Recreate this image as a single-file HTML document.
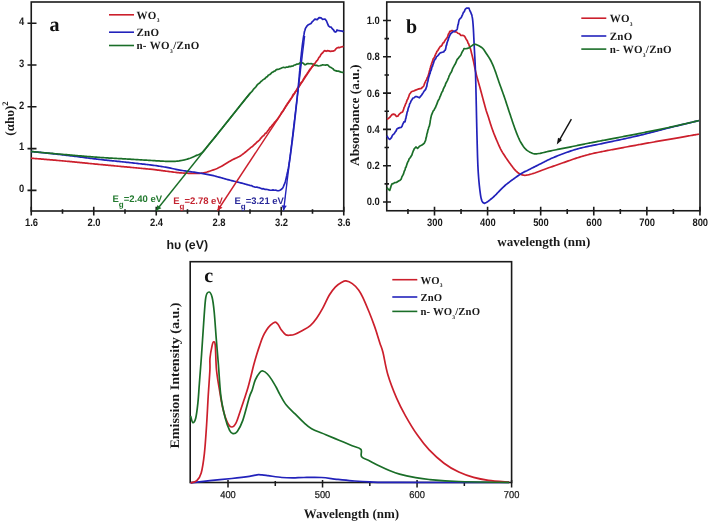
<!DOCTYPE html>
<html><head><meta charset="utf-8"><style>
html,body{margin:0;padding:0;background:#fff;}
text{text-rendering:geometricPrecision;}
svg{display:block;will-change:transform;}
.tka{font-family:'Liberation Sans', sans-serif;font-weight:bold;font-size:10.8px;fill:#1a1a1a;text-anchor:middle;}
.tkc{font-family:'Liberation Sans', sans-serif;font-size:10px;fill:#1a1a1a;stroke:#1a1a1a;stroke-width:0.25px;text-anchor:middle;}
.eg{font-family:'Liberation Sans', sans-serif;font-weight:bold;font-size:9.5px;}
.lg{font-family:'Liberation Serif', serif;font-weight:bold;font-size:11px;letter-spacing:0.35px;fill:#1a1a1a;}
.pl{font-family:'Liberation Serif', serif;font-weight:bold;font-size:20px;fill:#111;}
.at{font-family:'Liberation Serif', serif;font-weight:bold;font-size:13px;fill:#1a1a1a;}
</style></head><body>
<svg width="708" height="524" viewBox="0 0 708 524">
<rect width="708" height="524" fill="#fff"/>
<rect x="31.25" y="2" width="312.5" height="209" fill="none" stroke="#1a1a1a" stroke-width="1.6"/>
<text transform="translate(31.55,226) scale(0.87,1)" class="tka">1.6</text>
<text transform="translate(94.05,226) scale(0.87,1)" class="tka">2.0</text>
<text transform="translate(156.55,226) scale(0.87,1)" class="tka">2.4</text>
<text transform="translate(219.05,226) scale(0.87,1)" class="tka">2.8</text>
<text transform="translate(281.55,226) scale(0.87,1)" class="tka">3.2</text>
<text transform="translate(344.05,226) scale(0.87,1)" class="tka">3.6</text>
<text transform="translate(24.2,192.2) scale(0.87,1)" class="tka" style="text-anchor:end">0</text>
<text transform="translate(24.2,150.4) scale(0.87,1)" class="tka" style="text-anchor:end">1</text>
<text transform="translate(24.2,108.6) scale(0.87,1)" class="tka" style="text-anchor:end">2</text>
<text transform="translate(24.2,66.8) scale(0.87,1)" class="tka" style="text-anchor:end">3</text>
<text transform="translate(24.2,25) scale(0.87,1)" class="tka" style="text-anchor:end">4</text>
<path d="M31.25,206.8 L31.25,215.5 M62.5,209.3 L62.5,213.8 M93.75,206.8 L93.75,215.5 M125,209.3 L125,213.8 M156.25,206.8 L156.25,215.5 M187.5,209.3 L187.5,213.8 M218.75,206.8 L218.75,215.5 M250,209.3 L250,213.8 M281.25,206.8 L281.25,215.5 M312.5,209.3 L312.5,213.8 M343.75,206.8 L343.75,215.5 M27.5,190.4 L36.5,190.4 M27.5,148.6 L36.5,148.6 M27.5,106.8 L36.5,106.8 M27.5,65 L36.5,65 M27.5,23.2 L36.5,23.2" stroke="#1a1a1a" stroke-width="1.6" fill="none"/>
<path d="M31,158.2 L31.71,158.26 L32.51,158.33 L33.41,158.4 L34.38,158.48 L35.44,158.57 L36.57,158.66 L37.76,158.76 L39.01,158.86 L40.32,158.97 L41.68,159.08 L43.08,159.2 L44.52,159.32 L45.99,159.44 L47.48,159.57 L49,159.7 L50.53,159.82 L52.07,159.95 L53.61,160.09 L55.15,160.22 L56.68,160.35 L58.2,160.48 L59.69,160.61 L61.16,160.74 L62.6,160.87 L64,161 L65.27,161.12 L66.54,161.23 L67.79,161.35 L69.04,161.47 L70.29,161.59 L71.53,161.71 L72.77,161.83 L74.01,161.95 L75.26,162.07 L76.51,162.19 L77.76,162.32 L79.03,162.44 L80.3,162.57 L81.58,162.7 L82.88,162.82 L84.18,162.95 L85.51,163.09 L86.85,163.22 L88.21,163.35 L89.6,163.49 L91,163.63 L92.43,163.77 L93.89,163.91 L95.37,164.05 L96.88,164.2 L98.42,164.35 L100,164.5 L101.15,164.61 L102.35,164.72 L103.58,164.84 L104.84,164.96 L106.14,165.08 L107.47,165.2 L108.83,165.33 L110.21,165.46 L111.61,165.59 L113.04,165.72 L114.48,165.86 L115.93,165.99 L117.4,166.13 L118.87,166.26 L120.35,166.4 L121.84,166.54 L123.32,166.68 L124.8,166.81 L126.28,166.95 L127.75,167.09 L129.21,167.22 L130.66,167.36 L132.1,167.49 L133.51,167.62 L134.91,167.75 L136.28,167.88 L137.63,168.01 L138.95,168.13 L140.24,168.25 L141.49,168.37 L142.71,168.49 L143.89,168.6 L145.03,168.71 L146.12,168.82 L147.17,168.92 L148.16,169.02 L149.11,169.11 L150,169.2 L152.5,169.46 L154.58,169.68 L156.3,169.87 L157.72,170.04 L158.9,170.2 L159.9,170.33 L160.78,170.46 L161.6,170.58 L162.43,170.7 L163.31,170.82 L164.31,170.95 L165.5,171.1 L166.8,171.26 L168.1,171.42 L169.4,171.59 L170.7,171.76 L172,171.92 L173.3,172.09 L174.6,172.25 L175.9,172.4 L177.2,172.54 L178.5,172.68 L179.8,172.8 L181.1,172.9 L182.54,173 L184.03,173.09 L185.54,173.17 L187.07,173.23 L188.59,173.29 L190.08,173.33 L191.53,173.37 L192.93,173.39 L194.25,173.41 L195.48,173.41 L196.6,173.4 L198.35,173.36 L199.77,173.29 L200.98,173.17 L202.09,173.03 L203.19,172.84 L204.4,172.6 L205.7,172.31 L207,171.98 L208.3,171.6 L209.6,171.19 L210.9,170.75 L212.2,170.3 L213.46,169.86 L214.66,169.43 L215.87,168.98 L217.13,168.47 L218.49,167.85 L220,167.1 L221.01,166.56 L222.1,165.94 L223.25,165.26 L224.45,164.53 L225.67,163.79 L226.9,163.03 L228.11,162.29 L229.29,161.58 L230.43,160.91 L231.5,160.3 L232.94,159.54 L234.31,158.87 L235.63,158.26 L236.9,157.67 L238.15,157.07 L239.38,156.43 L240.6,155.7 L241.8,154.89 L242.96,154.04 L244.1,153.15 L245.22,152.23 L246.34,151.29 L247.46,150.35 L248.6,149.4 L249.62,148.57 L250.65,147.68 L251.69,146.9 L252.72,146.33 L253.75,145.09 L254.76,144.25 L255.75,143.44 L256.7,142.25 L257.74,141.53 L258.73,140.66 L259.7,139.83 L260.65,138.31 L261.59,137.49 L262.53,136.32 L263.5,135.85 L264.36,134.81 L265.22,133.32 L266.08,133.08 L266.94,132.07 L267.81,130.8 L268.67,129.75 L269.54,128.35 L270.4,127.21 L271.26,126.6 L272.13,125.22 L273,124.31 L273.86,123.33 L274.73,122.12 L275.59,121.41 L276.45,120.29 L277.3,119.47 L278.05,118.16 L278.8,117.16 L279.55,115.93 L280.3,114.91 L281.04,113.59 L281.78,112.28 L282.52,111.69 L283.26,110.54 L284,109.27 L284.74,108.04 L285.47,106.61 L286.2,105.42 L286.92,104.36 L287.65,103.07 L288.38,102.51 L289.12,101.09 L289.85,100.32 L290.6,98.81 L291.35,98.12 L292.1,96.89 L292.86,95.06 L293.61,94.08 L294.38,93.48 L295.14,91.96 L295.92,91.19 L296.71,89.53 L297.5,88.06 L298.24,87.38 L299,86.34 L299.78,84.74 L300.58,83.39 L301.37,82.38 L302.15,81.69 L302.91,80.37 L303.65,78.74 L304.35,77.78 L305,76.68 L305.98,75.15 L306.86,74.39 L307.66,72.65 L308.43,71.78 L309.2,70.57 L310,69.25 L311,68.41 L312.01,66.74 L313,66.01 L313.97,64.46 L314.9,63.54 L315.76,62.16 L316.58,60.98 L317.37,60.31 L318.17,58.95 L319,57.34 L319.9,56.53 L320.86,54.64 L321.82,53.49 L322.72,52.73 L323.5,51.71 L324.65,50.54 L326.1,51.29 L327.29,50.69 L328.8,50.83 L330.41,51.36 L331.88,51.12 L333,51.14 L334.7,50.56 L335.67,49.13 L336.8,48.07 L338.19,47.43 L339.8,47.58 L341.15,47.03 L342.59,46.67 L343.6,46.77" stroke="#cc1f2c" stroke-width="1.7" fill="none" stroke-linejoin="round"/>
<path d="M31,151.5 L31.71,151.57 L32.51,151.66 L33.41,151.75 L34.38,151.85 L35.44,151.96 L36.57,152.08 L37.76,152.2 L39.01,152.33 L40.32,152.46 L41.68,152.6 L43.08,152.74 L44.52,152.89 L45.99,153.05 L47.48,153.2 L49,153.36 L50.53,153.52 L52.07,153.68 L53.61,153.85 L55.15,154.01 L56.68,154.18 L58.2,154.35 L59.69,154.51 L61.16,154.68 L62.6,154.84 L64,155 L65.29,155.15 L66.61,155.31 L67.95,155.47 L69.32,155.64 L70.7,155.81 L72.1,155.98 L73.51,156.16 L74.93,156.33 L76.36,156.51 L77.79,156.7 L79.22,156.88 L80.65,157.06 L82.08,157.25 L83.5,157.43 L84.91,157.61 L86.3,157.79 L87.68,157.97 L89.04,158.14 L90.39,158.31 L91.7,158.48 L92.99,158.64 L94.25,158.8 L95.48,158.95 L96.67,159.1 L97.82,159.24 L98.93,159.37 L100,159.5 L101.79,159.71 L103.43,159.89 L104.93,160.05 L106.32,160.2 L107.61,160.33 L108.84,160.46 L110.02,160.57 L111.18,160.68 L112.33,160.79 L113.5,160.9 L114.71,161.02 L115.98,161.14 L117.34,161.28 L118.81,161.43 L120.4,161.6 L121.57,161.73 L122.8,161.86 L124.08,162 L125.41,162.14 L126.78,162.29 L128.19,162.44 L129.62,162.6 L131.08,162.75 L132.55,162.91 L134.03,163.08 L135.51,163.24 L136.98,163.4 L138.44,163.56 L139.89,163.72 L141.31,163.88 L142.7,164.04 L144.05,164.19 L145.35,164.34 L146.61,164.49 L147.8,164.63 L148.94,164.77 L150,164.9 L151.79,165.12 L153.4,165.33 L154.86,165.53 L156.21,165.71 L157.45,165.89 L158.62,166.06 L159.75,166.24 L160.85,166.41 L161.95,166.59 L163.07,166.78 L164.25,166.98 L165.5,167.2 L166.8,167.43 L168.1,167.68 L169.4,167.94 L170.7,168.2 L172,168.48 L173.3,168.75 L174.6,169.02 L175.9,169.3 L177.2,169.56 L178.5,169.82 L179.8,170.07 L181.1,170.3 L182.39,170.52 L183.69,170.72 L184.98,170.92 L186.27,171.11 L187.56,171.29 L188.85,171.47 L190.14,171.65 L191.43,171.83 L192.72,172.01 L194.01,172.2 L195.31,172.39 L196.6,172.6 L197.9,172.81 L199.2,173.02 L200.5,173.23 L201.8,173.44 L203.1,173.66 L204.4,173.88 L205.7,174.11 L207,174.34 L208.3,174.59 L209.6,174.85 L210.9,175.12 L212.2,175.4 L213.5,175.7 L214.79,176.02 L216.08,176.36 L217.37,176.71 L218.67,177.07 L219.96,177.43 L221.25,177.8 L222.54,178.17 L223.83,178.54 L225.12,178.9 L226.41,179.26 L227.7,179.6 L228.99,179.93 L230.27,180.26 L231.54,180.58 L232.82,180.89 L234.09,181.21 L235.37,181.52 L236.65,181.83 L237.94,182.15 L239.23,182.48 L240.54,182.81 L241.86,183.15 L243.2,183.5 L244.47,183.84 L245.78,184.21 L247.13,184.59 L248.5,184.98 L249.88,185.38 L251.26,185.59 L252.63,186.33 L253.97,186.71 L255.29,187.22 L256.56,187.05 L257.78,187.41 L258.93,187.65 L260,187.98 L261.79,188.81 L263.36,188.68 L264.77,189.29 L266.08,189.28 L267.35,189.54 L268.64,189.81 L270,190.27 L271.47,190.23 L273,189.91 L274.54,190.24 L276.05,190.2 L277.48,190.76 L278.78,190.56 L279.9,190.24 L281.15,189.6 L282.11,188.67 L282.89,187.73 L283.58,186.25 L284.3,184.21 L284.71,183.64 L285.11,182.2 L285.48,181.17 L285.84,179.69 L286.19,178.19 L286.53,176.71 L286.86,175.29 L287.18,173.72 L287.5,172.09 L287.75,171.47 L287.99,170.28 L288.22,169.27 L288.44,167.85 L288.66,166.54 L288.87,165.46 L289.08,163.68 L289.3,162.75 L289.52,161.13 L289.76,159.38 L290,157.76 L290.16,156.9 L290.33,155.53 L290.49,154.51 L290.66,153.41 L290.83,152 L291.01,150.5 L291.18,149.48 L291.36,147.94 L291.53,146.58 L291.71,145.15 L291.89,143.87 L292.07,142.2 L292.26,141.2 L292.44,139.95 L292.63,137.99 L292.81,136.72 L293,135.35 L293.14,133.46 L293.29,132.32 L293.43,131.61 L293.58,130.35 L293.74,128.88 L293.89,127.16 L294.05,126 L294.2,124.99 L294.36,123.63 L294.52,122.17 L294.68,120.29 L294.83,119.42 L294.99,117.64 L295.15,116.54 L295.3,114.7 L295.45,114.02 L295.6,112.39 L295.74,111.18 L295.88,109.5 L296.02,108.58 L296.15,107.35 L296.28,106.19 L296.4,104.89 L296.58,103.55 L296.75,101.7 L296.9,100.2 L297.05,98.7 L297.2,97.77 L297.33,96.02 L297.47,94.84 L297.6,93.46 L297.72,92.69 L297.85,91.37 L297.97,90.11 L298.1,88.43 L298.23,87.43 L298.36,85.99 L298.5,84.37 L298.62,83 L298.75,82.45 L298.87,80.38 L299,79.12 L299.13,77.67 L299.25,76.5 L299.38,74.64 L299.51,73.5 L299.63,71.98 L299.76,70.92 L299.88,68.84 L300,67.71 L300.13,66.47 L300.25,65.51 L300.37,63.86 L300.48,62.58 L300.6,61.54 L300.76,59.62 L300.92,57.85 L301.07,56.73 L301.21,55.62 L301.36,54.09 L301.51,52.35 L301.65,51.38 L301.8,50.22 L301.94,48.49 L302.09,47.52 L302.24,46.1 L302.4,44.8 L302.62,43.21 L302.84,41.52 L303.07,40.05 L303.3,38.25 L303.53,37.05 L303.76,35.4 L303.98,34.64 L304.19,33.33 L304.4,31.8 L304.95,30.16 L305.46,28.34 L306,27.48 L306.86,26.2 L307.9,25.07 L309.42,24.28 L311,23.55 L312.24,21.73 L313.3,20.79 L314.9,19.09 L317.2,19.66 L319.1,17.57 L321.1,17.94 L322.6,19.31 L325,19.03 L326.5,21 L327.1,22.53 L327.76,24.21 L328.5,25.9 L329.71,26.92 L331.2,27.13 L332.23,28.67 L333.42,29.82 L334.58,31.69 L335.5,32.06 L336.39,31.59 L337,29.94 L339,30.7 L340.51,30.8 L342.31,31.12 L343.6,31.69" stroke="#2222bb" stroke-width="1.7" fill="none" stroke-linejoin="round"/>
<path d="M31,151.5 L31.71,151.56 L32.52,151.64 L33.42,151.72 L34.41,151.81 L35.48,151.91 L36.62,152.02 L37.82,152.13 L39.09,152.25 L40.41,152.37 L41.79,152.49 L43.2,152.62 L44.65,152.76 L46.13,152.89 L47.64,153.03 L49.16,153.17 L50.69,153.31 L52.23,153.45 L53.77,153.59 L55.3,153.73 L56.82,153.86 L58.32,154 L59.79,154.13 L61.24,154.26 L62.64,154.38 L64,154.5 L65.29,154.61 L66.58,154.72 L67.87,154.84 L69.17,154.95 L70.47,155.06 L71.78,155.18 L73.08,155.29 L74.39,155.41 L75.7,155.52 L77.01,155.63 L78.33,155.75 L79.64,155.86 L80.95,155.97 L82.26,156.08 L83.57,156.19 L84.88,156.3 L86.19,156.41 L87.49,156.51 L88.79,156.62 L90.09,156.72 L91.39,156.82 L92.68,156.92 L93.97,157.02 L95.25,157.11 L96.53,157.21 L97.8,157.3 L99.18,157.4 L100.58,157.49 L101.98,157.59 L103.4,157.68 L104.82,157.77 L106.25,157.85 L107.68,157.94 L109.1,158.03 L110.53,158.11 L111.95,158.19 L113.36,158.27 L114.76,158.35 L116.15,158.43 L117.53,158.5 L118.89,158.58 L120.23,158.65 L121.55,158.72 L122.85,158.8 L124.12,158.87 L125.36,158.93 L126.57,159 L127.75,159.07 L128.89,159.13 L130,159.2 L131.7,159.3 L133.31,159.4 L134.85,159.49 L136.33,159.58 L137.74,159.66 L139.09,159.74 L140.4,159.82 L141.67,159.9 L142.91,159.98 L144.12,160.05 L145.31,160.12 L146.48,160.19 L147.65,160.26 L148.82,160.33 L150,160.4 L151.6,160.5 L153.17,160.59 L154.71,160.69 L156.22,160.79 L157.69,160.88 L159.11,160.97 L160.49,161.05 L161.83,161.13 L163.11,161.2 L164.33,161.25 L165.5,161.3 L167.19,161.36 L168.7,161.4 L170.07,161.42 L171.35,161.42 L172.57,161.41 L173.77,161.37 L175,161.3 L176.43,161.19 L177.81,161.05 L179.16,160.88 L180.46,160.67 L181.74,160.45 L183,160.2 L184.48,159.87 L185.92,159.49 L187.32,159.09 L188.68,158.65 L190,158.2 L191.26,157.72 L192.47,157.22 L193.65,156.7 L194.82,156.16 L196,155.6 L197.18,155.11 L198.35,154.68 L199.53,154.2 L200.74,153.55 L202,152.6 L202.82,151.82 L203.66,150.92 L204.52,149.92 L205.39,148.84 L206.28,147.72 L207.18,146.57 L208.08,145.42 L209,144.3 L209.79,143.35 L210.55,142.44 L211.3,141.55 L212.06,140.65 L212.85,139.7 L213.69,138.69 L214.59,137.59 L215.59,136.37 L216.7,135 L217.38,134.16 L218.1,133.26 L218.86,132.31 L219.65,131.33 L220.47,130.3 L221.31,129.25 L222.17,128.17 L223.04,127.07 L223.93,125.95 L224.82,124.83 L225.72,123.7 L226.62,122.58 L227.51,121.46 L228.39,120.35 L229.25,119.26 L230.1,118.2 L230.95,117.14 L231.82,116.05 L232.7,114.94 L233.59,113.81 L234.49,112.68 L235.39,111.55 L236.29,110.42 L237.18,109.31 L238.06,108.2 L238.92,107.12 L239.76,106.07 L240.58,105.04 L241.37,104.06 L242.12,103.12 L242.83,102.23 L243.5,101.4 L244.71,99.9 L245.78,98.58 L246.73,97.4 L247.6,96.34 L248.41,95.35 L249.2,94.41 L249.98,93.47 L250.8,92.52 L251.74,91.64 L252.64,90.7 L253.51,89.15 L254.37,88.55 L255.23,87.54 L256.1,86.57 L257,85.19 L258.01,84.09 L258.94,83.43 L259.89,82.8 L260.93,81.45 L262.14,80.6 L263.6,79.25 L264.44,78.99 L265.35,78.3 L266.32,77.04 L267.34,76.66 L268.41,75.03 L269.51,74.74 L270.63,73.91 L271.77,72.47 L272.91,72.1 L274.05,71.22 L275.19,70.86 L276.3,69.67 L277.67,69.33 L279.11,69.09 L280.6,68.45 L282.12,67.81 L283.62,67.3 L285.08,67.71 L286.48,67.08 L287.79,67.26 L288.97,66.35 L290,66.65 L291.94,66.17 L293.24,65.95 L294.23,64.99 L295.2,65 L297.01,64.1 L298.6,64 L300.35,62.72 L302,62.67 L303.19,63.22 L304.6,64.62 L305.72,64.6 L307.04,63.72 L308.45,63.58 L309.8,63.77 L311.12,63.68 L312.46,64.03 L313.74,64.49 L314.9,65.33 L316.71,65.41 L318.4,65.98 L319.74,65.77 L321.16,65.42 L322.6,64.8 L324.09,65.02 L325.6,65.09 L327,64.76 L328.14,65.3 L329.18,66.58 L330.4,67.26 L331.57,67.87 L332.89,68.65 L334.24,70.19 L335.5,70.58 L337.01,71.12 L338.43,71.11 L339.8,71.61 L341.24,72.13 L342.63,72.29 L343.6,72.46" stroke="#1a6e28" stroke-width="1.7" fill="none" stroke-linejoin="round"/>
<path d="M156.25,210.5 L250.25,93" stroke="#1a6e28" stroke-width="1.4" fill="none"/>
<path d="M156.25,210.5 L161.4,208.22 L157.34,204.97 Z" fill="#1a6e28"/>
<path d="M217.6,210.5 L314.31,63.5" stroke="#cc1f2c" stroke-width="1.4" fill="none"/>
<path d="M217.6,210.5 L222.52,207.75 L218.18,204.89 Z" fill="#cc1f2c"/>
<path d="M283.6,210.5 L304.62,36" stroke="#2222bb" stroke-width="1.4" fill="none"/>
<path d="M283.6,210.5 L286.78,205.85 L281.62,205.22 Z" fill="#2222bb"/>
<text x="112.5" y="202" class="eg" fill="#237a2f">E<tspan dy="5" font-size="8">g</tspan><tspan dy="-5">=2.40 eV</tspan></text>
<text x="173.2" y="204" class="eg" fill="#c42330">E<tspan dy="5" font-size="8">g</tspan><tspan dy="-5">=2.78 eV</tspan></text>
<text x="234.4" y="204" class="eg" fill="#2a2a9a">E<tspan dy="5" font-size="8">g</tspan><tspan dy="-5">=3.21 eV</tspan></text>
<path d="M109,14.8 h25" stroke="#cc1f2c" stroke-width="1.6"/>
<path d="M109,32.2 h25" stroke="#2222bb" stroke-width="1.6"/>
<path d="M109,45.5 h25" stroke="#1a6e28" stroke-width="1.6"/>
<text x="136.4" y="18.6" class="lg" style="">WO<tspan dy="3.8" font-size="5.5">3</tspan></text>
<text x="136.4" y="36" class="lg" style="">ZnO</text>
<text x="136.4" y="49.3" class="lg" style="">n- WO<tspan dy="3.8" font-size="5.5">3</tspan><tspan dy="-3.8">/ZnO</tspan></text>
<text x="49.5" y="30.5" class="pl">a</text>
<text x="187.3" y="249.4" class="at" style="font-family:'Liberation Sans', sans-serif;font-size:12.5px" text-anchor="middle" textLength="41.5" lengthAdjust="spacingAndGlyphs">h&#965; (eV)</text>
<text transform="translate(13.6,118.6) rotate(-90)" class="at" style="font-size:13px" text-anchor="middle">(&#945;h&#965;)<tspan dy="-6" font-size="8.5">2</tspan></text>
<rect x="386.75" y="2" width="313.25" height="208.75" fill="none" stroke="#1a1a1a" stroke-width="1.6"/>
<text transform="translate(434.8,226) scale(0.87,1)" class="tka">300</text>
<text transform="translate(487.89,226) scale(0.87,1)" class="tka">400</text>
<text transform="translate(540.98,226) scale(0.87,1)" class="tka">500</text>
<text transform="translate(594.07,226) scale(0.87,1)" class="tka">600</text>
<text transform="translate(647.16,226) scale(0.87,1)" class="tka">700</text>
<text transform="translate(700.25,226) scale(0.87,1)" class="tka">800</text>
<text transform="translate(379.8,205.4) scale(0.87,1)" class="tka" style="text-anchor:end">0.0</text>
<text transform="translate(379.8,169.1) scale(0.87,1)" class="tka" style="text-anchor:end">0.2</text>
<text transform="translate(379.8,132.8) scale(0.87,1)" class="tka" style="text-anchor:end">0.4</text>
<text transform="translate(379.8,96.5) scale(0.87,1)" class="tka" style="text-anchor:end">0.6</text>
<text transform="translate(379.8,60.2) scale(0.87,1)" class="tka" style="text-anchor:end">0.8</text>
<text transform="translate(379.8,23.9) scale(0.87,1)" class="tka" style="text-anchor:end">1.0</text>
<path d="M407.95,209 L407.95,213.9 M434.5,206.8 L434.5,215.6 M461.05,209 L461.05,213.9 M487.59,206.8 L487.59,215.6 M514.13,209 L514.13,213.9 M540.68,206.8 L540.68,215.6 M567.23,209 L567.23,213.9 M593.77,206.8 L593.77,215.6 M620.32,209 L620.32,213.9 M646.86,206.8 L646.86,215.6 M673.4,209 L673.4,213.9 M699.95,206.8 L699.95,215.6 M383,202 L391,202 M384.5,183.85 L389,183.85 M383,165.7 L391,165.7 M384.5,147.55 L389,147.55 M383,129.4 L391,129.4 M384.5,111.25 L389,111.25 M383,93.1 L391,93.1 M384.5,74.95 L389,74.95 M383,56.8 L391,56.8 M384.5,38.65 L389,38.65 M383,20.5 L391,20.5" stroke="#1a1a1a" stroke-width="1.6" fill="none"/>
<path d="M386.9,119.11 L388.16,118.69 L389.7,117.36 L390.84,115.95 L392,114.64 L393.47,114.1 L395,114.66 L396.47,116.46 L397.8,116.24 L398.69,114.85 L399.6,113.95 L401.07,112.65 L402.6,111.97 L403.1,110.62 L403.57,109.58 L404.01,107.7 L404.45,106.89 L404.9,105.9 L405.47,104.15 L406.05,103.07 L406.62,101.7 L407.2,99.72 L407.81,99.07 L408.43,97.41 L409.02,95.71 L409.5,94.28 L410.5,93 L411.43,91.7 L412.6,91.24 L414.09,90.84 L415.6,90.14 L417.9,89.16 L420.2,88.58 L421.4,88.42 L422.5,87.14 L423.3,86.62 L424,85.32 L424.74,83.05 L425.5,81.5 L426.03,80.37 L426.57,79.89 L427.1,78.03 L427.76,76.93 L428.6,74.28 L428.86,73.57 L429.14,72.33 L429.44,71.05 L429.75,69.96 L430.09,68.56 L430.45,67.48 L430.84,65.8 L431.25,64.69 L431.7,63.29 L432.19,62.15 L432.73,60.47 L433.31,58.57 L433.92,58.01 L434.54,56.81 L435.16,55.48 L435.76,53.91 L436.35,52.95 L436.9,51.38 L437.8,50.54 L438.65,49.04 L439.47,47.67 L440.3,46.39 L441.2,46.09 L442.01,45.16 L442.87,43.08 L443.75,42.74 L444.63,41.17 L445.49,39.72 L446.3,38.67 L447.04,37.85 L447.73,36.46 L448.39,34.02 L449.07,33.22 L449.79,31.41 L450.6,31.34 L452.02,30.47 L453.6,31.27 L455.18,31.92 L456.6,32.01 L457.82,33.28 L458.91,33.49 L459.93,34.2 L460.9,35.51 L462.71,35.28 L464.3,35.97 L465.21,37.29 L466.03,38.98 L466.9,40.22 L467.49,41.2 L468.1,43.27 L468.73,43.94 L469.37,46.13 L470,47.84 L470.35,48.4 L470.71,49.75 L471.07,51.15 L471.43,52.7 L471.79,54.11 L472.15,55.5 L472.51,57.01 L472.86,58.52 L473.2,60 L473.5,61.32 L473.78,62.64 L474.05,63.97 L474.31,65.31 L474.58,66.67 L474.85,68.04 L475.14,69.42 L475.44,70.83 L475.75,72.25 L476.1,73.7 L476.41,74.92 L476.73,76.14 L477.06,77.36 L477.4,78.59 L477.75,79.84 L478.11,81.1 L478.47,82.38 L478.85,83.69 L479.23,85.02 L479.62,86.38 L480.01,87.77 L480.4,89.2 L480.73,90.4 L481.07,91.67 L481.42,93 L481.79,94.37 L482.16,95.77 L482.54,97.19 L482.92,98.61 L483.29,100.02 L483.66,101.41 L484.03,102.76 L484.38,104.06 L484.71,105.3 L485.03,106.46 L485.33,107.53 L485.6,108.5 L486.18,110.49 L486.66,112 L487.07,113.21 L487.44,114.25 L487.8,115.3 L488.2,116.5 L488.62,117.83 L489.03,119.17 L489.44,120.5 L489.85,121.83 L490.27,123.17 L490.7,124.5 L491.14,125.83 L491.59,127.15 L492.04,128.47 L492.5,129.8 L492.99,131.14 L493.5,132.5 L493.96,133.69 L494.45,134.91 L494.95,136.14 L495.46,137.38 L495.98,138.61 L496.49,139.82 L497,141 L497.58,142.36 L498.17,143.72 L498.75,145.06 L499.33,146.36 L499.92,147.61 L500.5,148.8 L501.17,150.08 L501.8,151.23 L502.45,152.34 L503.17,153.49 L504,154.8 L504.68,155.84 L505.41,156.95 L506.18,158.1 L507,159.28 L507.84,160.49 L508.71,161.7 L509.6,162.9 L510.4,163.98 L511.23,165.13 L512.09,166.3 L512.96,167.47 L513.85,168.61 L514.74,169.68 L515.62,170.66 L516.5,171.5 L517.64,172.46 L518.76,173.29 L519.89,173.97 L521.04,174.53 L522.23,174.94 L523.5,175.2 L524.83,175.29 L526.21,175.2 L527.64,174.97 L529.11,174.63 L530.63,174.23 L532.2,173.8 L533.43,173.43 L534.73,173 L536.06,172.52 L537.42,172 L538.77,171.47 L540.1,170.95 L541.38,170.45 L542.6,170 L544.07,169.47 L545.41,168.99 L546.7,168.53 L548.01,168.06 L549.41,167.56 L551,167 L552.18,166.59 L553.42,166.15 L554.73,165.69 L556.09,165.22 L557.47,164.73 L558.87,164.24 L560.26,163.76 L561.65,163.27 L563,162.8 L564.33,162.33 L565.67,161.86 L567,161.38 L568.33,160.9 L569.67,160.43 L571,159.96 L572.33,159.49 L573.67,159.04 L575,158.6 L576.33,158.17 L577.65,157.75 L578.96,157.33 L580.28,156.93 L581.6,156.53 L582.93,156.13 L584.27,155.75 L585.62,155.37 L587,155 L588.14,154.7 L589.12,154.43 L590.02,154.19 L590.89,153.96 L591.83,153.73 L592.9,153.48 L594.18,153.2 L595.74,152.87 L597.65,152.47 L600,152 L600.88,151.83 L601.79,151.65 L602.73,151.46 L603.71,151.27 L604.71,151.07 L605.75,150.87 L606.82,150.66 L607.91,150.45 L609.04,150.23 L610.2,150.01 L611.38,149.78 L612.59,149.55 L613.83,149.31 L615.1,149.07 L616.39,148.83 L617.71,148.58 L619.06,148.32 L620.43,148.06 L621.83,147.8 L623.25,147.54 L624.69,147.27 L626.16,147 L627.65,146.72 L629.17,146.44 L630.7,146.16 L632.26,145.87 L633.84,145.58 L635.44,145.29 L637.06,145 L638.7,144.7 L639.78,144.51 L640.9,144.3 L642.06,144.1 L643.26,143.88 L644.5,143.66 L645.78,143.43 L647.08,143.2 L648.42,142.96 L649.79,142.72 L651.18,142.47 L652.59,142.22 L654.03,141.97 L655.48,141.71 L656.95,141.45 L658.44,141.19 L659.93,140.93 L661.44,140.67 L662.95,140.4 L664.46,140.14 L665.98,139.87 L667.5,139.6 L669.01,139.34 L670.52,139.08 L672.02,138.81 L673.51,138.55 L674.99,138.29 L676.45,138.04 L677.9,137.79 L679.33,137.54 L680.73,137.29 L682.11,137.05 L683.47,136.81 L684.79,136.58 L686.09,136.36 L687.35,136.14 L688.57,135.92 L689.76,135.72 L690.91,135.52 L692.01,135.32 L693.07,135.14 L694.08,134.96 L695.04,134.79 L695.94,134.64 L696.8,134.49 L697.59,134.35 L698.33,134.22 L699,134.1" stroke="#cc1f2c" stroke-width="1.7" fill="none" stroke-linejoin="round"/>
<path d="M386.9,135.54 L387.56,136.92 L388.53,138.62 L389.7,139.39 L390.52,138.58 L391.46,137.66 L392.45,135.27 L393.42,134.3 L394.3,133.59 L395.25,131.93 L396.12,130.9 L396.95,128.87 L397.8,128.37 L399.6,127.61 L401.3,127.35 L402.07,126.24 L402.81,124.08 L403.46,122.78 L404,121.76 L405,121.86 L405.26,120.82 L405.56,118.99 L405.89,118.32 L406.25,116.11 L406.6,115.12 L406.96,113.12 L407.3,111.65 L407.68,111.17 L408.07,109 L408.45,107.6 L408.83,107.1 L409.22,105.73 L409.6,103.97 L410.33,102.87 L411.05,100.94 L411.9,99.8 L413.01,98.03 L414.24,97.76 L415.3,96.71 L417.1,96.71 L419.4,97.83 L420.55,96.37 L421.7,95.05 L422.47,93.8 L423.23,92.62 L424,91.32 L424.82,90.34 L425.64,89.39 L426.3,87.45 L426.78,86.35 L427.1,84.02 L427.44,82.52 L427.81,81.51 L428.2,79.58 L428.46,78.2 L428.72,77.19 L429.4,75.23 L429.71,73.58 L430.07,73.48 L430.49,71.19 L430.93,70.64 L431.41,69.34 L431.9,66.99 L432.41,66.41 L432.91,64.57 L433.4,63.5 L433.86,61.69 L434.3,60.7 L435.03,59.26 L435.71,58.76 L436.38,56.77 L437.06,56.37 L437.79,55.64 L438.6,54.79 L439.76,53.25 L441.08,52.61 L442.43,52.25 L443.65,51.94 L444.6,50.47 L445.29,50.12 L445.61,49.06 L445.86,47.8 L446.3,45.19 L446.64,45.1 L447.03,42.87 L447.45,41.73 L447.89,40.56 L448.34,39.44 L448.8,37.43 L449.26,36.86 L449.7,35.45 L450.86,33.49 L452.04,32.55 L453.2,31.65 L454.96,31.12 L456.6,29.91 L456.97,29.58 L457.32,28.7 L457.66,26.37 L457.98,24.72 L458.3,24.23 L458.6,22.29 L458.9,20.88 L459.2,19.71 L460.23,18.42 L461.3,17.56 L461.97,15.87 L462.71,14.28 L463.46,12.29 L464.2,11.86 L465.17,9.29 L466.13,8.43 L467,7.97 L469,8.19 L469.53,9.79 L470.13,11.23 L470.75,12.29 L471.32,14.01 L471.8,14.87 L472.07,16.39 L472.28,17.42 L472.47,18.47 L472.63,19.64 L472.78,21.03 L472.93,22.72 L473.1,24.8 L473.17,25.79 L473.25,26.85 L473.32,27.97 L473.39,29.15 L473.46,30.38 L473.53,31.66 L473.6,32.99 L473.67,34.36 L473.73,35.76 L473.8,37.2 L473.87,38.66 L473.94,40.14 L474.01,41.64 L474.08,43.15 L474.15,44.66 L474.23,46.18 L474.3,47.7 L474.36,48.85 L474.41,49.97 L474.47,51.06 L474.53,52.12 L474.59,53.18 L474.64,54.23 L474.7,55.28 L474.76,56.35 L474.82,57.43 L474.88,58.53 L474.94,59.66 L475,60.84 L475.06,62.05 L475.12,63.33 L475.18,64.66 L475.24,66.06 L475.3,67.54 L475.36,69.09 L475.42,70.74 L475.48,72.49 L475.54,74.34 L475.6,76.3 L475.63,77.29 L475.66,78.31 L475.69,79.38 L475.72,80.48 L475.75,81.62 L475.78,82.79 L475.81,83.99 L475.84,85.22 L475.87,86.48 L475.9,87.77 L475.93,89.08 L475.96,90.41 L475.99,91.76 L476.03,93.14 L476.06,94.53 L476.09,95.93 L476.12,97.35 L476.15,98.78 L476.18,100.22 L476.21,101.67 L476.24,103.13 L476.27,104.59 L476.31,106.06 L476.34,107.52 L476.37,108.99 L476.4,110.45 L476.43,111.91 L476.46,113.37 L476.49,114.82 L476.52,116.25 L476.55,117.68 L476.59,119.1 L476.62,120.5 L476.65,121.88 L476.68,123.25 L476.71,124.6 L476.74,125.92 L476.77,127.22 L476.8,128.5 L476.83,129.75 L476.86,130.98 L476.89,132.17 L476.91,133.33 L476.94,134.45 L476.97,135.55 L477,136.6 L477.05,138.4 L477.1,140.15 L477.14,141.84 L477.18,143.48 L477.23,145.08 L477.27,146.63 L477.31,148.13 L477.35,149.59 L477.39,151.01 L477.43,152.4 L477.46,153.75 L477.5,155.07 L477.54,156.36 L477.58,157.63 L477.63,158.86 L477.67,160.08 L477.71,161.27 L477.76,162.45 L477.8,163.61 L477.85,164.76 L477.9,165.9 L477.96,167.02 L478.01,168.15 L478.07,169.26 L478.13,170.38 L478.2,171.5 L478.3,173.1 L478.41,174.68 L478.52,176.24 L478.64,177.76 L478.76,179.25 L478.88,180.7 L479.01,182.12 L479.14,183.51 L479.27,184.85 L479.41,186.15 L479.55,187.41 L479.69,188.62 L479.82,189.78 L479.96,190.89 L480.1,191.95 L480.23,192.96 L480.37,193.91 L480.5,194.8 L480.88,197.08 L481.26,198.81 L481.63,200.11 L482.02,201.08 L482.44,201.84 L482.9,202.5 L484.24,203.39 L486.3,202.5 L487.08,202.03 L487.96,201.43 L488.92,200.71 L489.96,199.91 L491.05,199.02 L492.18,198.06 L493.33,197.05 L494.5,196 L495.35,195.2 L496.2,194.35 L497.06,193.45 L497.93,192.52 L498.83,191.55 L499.75,190.57 L500.71,189.56 L501.71,188.54 L502.75,187.52 L503.85,186.51 L505,185.5 L505.98,184.69 L507.03,183.84 L508.15,182.97 L509.32,182.07 L510.52,181.16 L511.75,180.25 L512.98,179.34 L514.21,178.46 L515.41,177.59 L516.58,176.77 L517.69,175.99 L518.75,175.26 L519.72,174.59 L520.6,174 L522.29,172.92 L523.61,172.16 L524.7,171.62 L525.73,171.16 L526.84,170.66 L528.2,170 L529.25,169.46 L530.36,168.91 L531.52,168.33 L532.71,167.73 L533.94,167.12 L535.19,166.5 L536.46,165.87 L537.73,165.23 L539,164.6 L540.15,164.02 L541.32,163.42 L542.51,162.81 L543.71,162.19 L544.92,161.56 L546.14,160.94 L547.36,160.33 L548.58,159.73 L549.79,159.15 L551,158.6 L552.33,158.01 L553.67,157.44 L555,156.89 L556.33,156.35 L557.67,155.83 L559,155.31 L560.33,154.8 L561.67,154.3 L563,153.8 L564.33,153.3 L565.67,152.8 L567,152.31 L568.33,151.83 L569.67,151.35 L571,150.89 L572.33,150.44 L573.67,150.01 L575,149.6 L576.33,149.21 L577.65,148.84 L578.96,148.5 L580.28,148.16 L581.6,147.84 L582.93,147.53 L584.27,147.22 L585.62,146.91 L587,146.6 L588.14,146.35 L589.12,146.15 L590.02,145.97 L590.89,145.81 L591.83,145.64 L592.9,145.44 L594.18,145.19 L595.74,144.88 L597.65,144.49 L600,144 L600.89,143.81 L601.85,143.61 L602.86,143.39 L603.93,143.17 L605.05,142.93 L606.21,142.68 L607.42,142.43 L608.67,142.17 L609.95,141.89 L611.27,141.61 L612.62,141.33 L613.98,141.04 L615.38,140.74 L616.78,140.44 L618.21,140.14 L619.64,139.83 L621.08,139.52 L622.52,139.21 L623.96,138.9 L625.4,138.59 L626.82,138.27 L628.24,137.96 L629.64,137.65 L631.02,137.35 L632.38,137.04 L633.71,136.74 L635.01,136.45 L636.28,136.16 L637.51,135.88 L638.7,135.6 L640.15,135.26 L641.57,134.92 L642.98,134.57 L644.37,134.23 L645.74,133.89 L647.1,133.55 L648.44,133.21 L649.77,132.87 L651.08,132.53 L652.38,132.19 L653.67,131.85 L654.96,131.51 L656.23,131.18 L657.5,130.84 L658.76,130.51 L660.01,130.18 L661.26,129.85 L662.51,129.52 L663.76,129.19 L665,128.87 L666.25,128.55 L667.5,128.23 L668.75,127.91 L670,127.6 L671.39,127.25 L672.83,126.9 L674.3,126.54 L675.8,126.17 L677.33,125.8 L678.86,125.43 L680.4,125.06 L681.93,124.69 L683.46,124.32 L684.97,123.96 L686.46,123.6 L687.91,123.25 L689.32,122.91 L690.69,122.59 L692,122.28 L693.24,121.98 L694.42,121.7 L695.52,121.43 L696.54,121.19 L697.46,120.97 L698.28,120.77 L699,120.6" stroke="#2222bb" stroke-width="1.7" fill="none" stroke-linejoin="round"/>
<path d="M386.9,187.71 L388.16,189.03 L389.7,190.37 L390.23,188.77 L390.66,187.63 L391.19,185.65 L392,183.91 L393.26,183.59 L394.82,182.55 L396.43,182.52 L397.8,181.53 L399.09,180.76 L400.13,180.22 L401.3,178.86 L401.78,177.13 L402.3,176.08 L402.84,175.22 L403.4,174.16 L403.96,172.3 L404.51,170.64 L405.05,169.87 L405.55,167.55 L406,167.29 L406.6,165.16 L407.13,163.62 L407.61,162.34 L408.07,161.39 L408.53,160.86 L409,159.15 L409.75,158.3 L410.49,157.32 L411.22,156.03 L411.9,155.05 L412.41,153.33 L412.89,151.98 L413.35,150.78 L413.79,150.06 L414.2,148.82 L415.9,147 L417.6,148.39 L418.48,147.51 L419.5,146.16 L420.5,145.72 L421.97,145.07 L423.3,144.02 L424.31,143.11 L425.1,141.43 L425.5,140.67 L425.81,139.24 L426.2,137.17 L426.5,136.71 L426.84,134.37 L427.19,133.22 L427.55,132.13 L427.9,130.12 L428.34,129.01 L428.78,127.14 L429.21,126.47 L429.6,125.09 L429.86,123.56 L430.09,122.48 L430.31,120.43 L430.54,119.44 L430.8,118 L431.18,116.42 L431.58,114.78 L432.02,113.81 L432.5,112.69 L433.22,110.96 L434.01,110.21 L434.8,108.32 L435.38,107.71 L435.95,106.14 L436.53,104.96 L437.1,103.35 L437.89,101.11 L438.68,99.71 L439.4,98.59 L439.94,96.67 L440.42,96.04 L441.1,94.13 L441.56,93.02 L442.07,91.79 L442.64,91.28 L443.25,89.18 L443.9,87.81 L444.6,86.38 L445.1,85.77 L445.62,83.68 L446.18,82.8 L446.75,81.57 L447.34,80.59 L447.93,79.15 L448.53,77.86 L449.12,75.91 L449.7,74.81 L450.37,73.36 L451.06,72.52 L451.77,71.2 L452.47,68.93 L453.16,67.63 L453.8,66.45 L454.39,65.31 L454.9,64.58 L455.84,62.76 L456.46,61.09 L457.2,59.45 L457.97,58.71 L458.83,57.44 L459.72,56.4 L460.6,55.5 L461.28,53.99 L461.96,52.44 L462.63,51.21 L463.31,50.08 L464,48.51 L465.75,48.72 L467.5,48.41 L469.2,47.74 L470.9,46.4 L472.06,45.62 L473.24,44.79 L474.4,44.3 L476.03,44.44 L477.8,45.2 L478.89,45.74 L480.1,46.42 L481.31,47.21 L482.4,48.1 L483.29,49.04 L484.06,50.06 L484.85,51.25 L485.8,52.7 L486.46,53.68 L487.19,54.77 L487.97,55.94 L488.76,57.16 L489.55,58.43 L490.3,59.72 L491,61 L491.63,62.27 L492.22,63.54 L492.78,64.83 L493.33,66.16 L493.87,67.53 L494.42,68.97 L495,70.5 L495.41,71.62 L495.83,72.78 L496.24,73.97 L496.66,75.19 L497.08,76.44 L497.5,77.71 L497.93,79.01 L498.38,80.32 L498.83,81.66 L499.3,83 L499.74,84.24 L500.19,85.5 L500.66,86.78 L501.13,88.08 L501.61,89.4 L502.09,90.73 L502.58,92.07 L503.06,93.42 L503.55,94.78 L504.03,96.14 L504.5,97.5 L504.93,98.76 L505.36,100.03 L505.78,101.32 L506.21,102.61 L506.63,103.91 L507.06,105.22 L507.48,106.53 L507.9,107.83 L508.33,109.14 L508.75,110.43 L509.18,111.72 L509.6,113 L510.03,114.29 L510.47,115.6 L510.91,116.93 L511.36,118.26 L511.81,119.59 L512.25,120.91 L512.69,122.2 L513.12,123.46 L513.54,124.68 L513.94,125.85 L514.33,126.96 L514.7,128 L515.29,129.62 L515.82,131.08 L516.32,132.41 L516.8,133.63 L517.26,134.79 L517.72,135.9 L518.2,137 L518.85,138.47 L519.48,139.8 L520.1,141.06 L520.77,142.27 L521.5,143.5 L522.28,144.76 L523.09,146.03 L523.96,147.27 L524.92,148.44 L526,149.5 L527.03,150.33 L528.19,151.13 L529.41,151.88 L530.65,152.54 L531.86,153.09 L533,153.5 L534.43,153.84 L535.69,153.92 L537.1,153.78 L539,153.5 L540.07,153.32 L541.26,153.08 L542.56,152.79 L543.92,152.47 L545.34,152.13 L546.78,151.78 L548.22,151.43 L549.63,151.1 L551,150.8 L552.33,150.52 L553.67,150.25 L555,149.98 L556.33,149.71 L557.67,149.45 L559,149.19 L560.33,148.93 L561.67,148.67 L563,148.4 L564.33,148.13 L565.67,147.87 L567,147.6 L568.33,147.34 L569.67,147.07 L571,146.81 L572.33,146.54 L573.67,146.27 L575,146 L576.33,145.73 L577.65,145.45 L578.96,145.17 L580.28,144.9 L581.6,144.62 L582.93,144.34 L584.27,144.06 L585.62,143.78 L587,143.5 L588.14,143.27 L589.12,143.08 L590.02,142.9 L590.89,142.74 L591.83,142.56 L592.9,142.35 L594.18,142.11 L595.74,141.81 L597.65,141.45 L600,141 L600.89,140.83 L601.85,140.65 L602.86,140.45 L603.93,140.25 L605.05,140.04 L606.21,139.82 L607.42,139.59 L608.67,139.35 L609.95,139.11 L611.27,138.86 L612.62,138.6 L613.98,138.34 L615.38,138.08 L616.78,137.81 L618.21,137.54 L619.64,137.27 L621.08,137 L622.52,136.72 L623.96,136.45 L625.4,136.17 L626.82,135.9 L628.24,135.63 L629.64,135.36 L631.02,135.09 L632.38,134.83 L633.71,134.57 L635.01,134.32 L636.28,134.07 L637.51,133.83 L638.7,133.6 L640.15,133.31 L641.57,133.03 L642.98,132.75 L644.37,132.48 L645.74,132.2 L647.1,131.93 L648.44,131.67 L649.77,131.4 L651.08,131.14 L652.38,130.87 L653.67,130.61 L654.96,130.35 L656.23,130.09 L657.5,129.83 L658.76,129.57 L660.01,129.31 L661.26,129.05 L662.51,128.79 L663.76,128.53 L665,128.27 L666.25,128 L667.5,127.74 L668.75,127.47 L670,127.2 L671.39,126.9 L672.83,126.58 L674.3,126.26 L675.8,125.92 L677.33,125.58 L678.86,125.24 L680.4,124.89 L681.93,124.54 L683.46,124.19 L684.97,123.84 L686.46,123.5 L687.91,123.16 L689.32,122.84 L690.69,122.52 L692,122.22 L693.24,121.93 L694.42,121.66 L695.52,121.4 L696.54,121.17 L697.46,120.95 L698.28,120.76 L699,120.6" stroke="#1a6e28" stroke-width="1.7" fill="none" stroke-linejoin="round"/>
<path d="M571.40,119.20 L559.39,140.09" stroke="#111" stroke-width="1.4"/>
<path d="M556.80,144.60 L562.03,140.11 L558.05,137.82 Z" fill="#111"/>
<path d="M581.3,18.2 h25" stroke="#cc1f2c" stroke-width="1.6"/>
<path d="M581.3,36 h25" stroke="#2222bb" stroke-width="1.6"/>
<path d="M581.3,49.1 h25" stroke="#1a6e28" stroke-width="1.6"/>
<text x="609.7" y="22" class="lg" style="letter-spacing:0.25px">WO<tspan dy="3.8" font-size="5.5">3</tspan></text>
<text x="609.7" y="39.8" class="lg" style="letter-spacing:0.25px">ZnO</text>
<text x="609.7" y="52.9" class="lg" style="letter-spacing:0.25px">n- WO<tspan dy="3.8" font-size="5.5">3</tspan><tspan dy="-3.8">/ZnO</tspan></text>
<text x="406" y="32.5" class="pl">b</text>
<text x="497.3" y="245.6" class="at" textLength="93" lengthAdjust="spacingAndGlyphs">wavelength (nm)</text>
<text transform="translate(359.3,166) rotate(-90)" class="at" textLength="101.5" lengthAdjust="spacingAndGlyphs">Absorbance (a.u.)</text>
<rect x="190.2" y="261.7" width="321.4" height="220.8" fill="none" stroke="#1a1a1a" stroke-width="1.6"/>
<text transform="translate(228.01,497.5) scale(0.93,1)" class="tkc">400</text>
<text transform="translate(322.54,497.5) scale(0.93,1)" class="tkc">500</text>
<text transform="translate(417.07,497.5) scale(0.93,1)" class="tkc">600</text>
<text transform="translate(511.6,497.5) scale(0.93,1)" class="tkc">700</text>
<path d="M228.01,480 L228.01,487.6 M275.28,481 L275.28,486 M322.54,480 L322.54,487.6 M369.81,481 L369.81,486 M417.07,480 L417.07,487.6 M464.34,481 L464.34,486 M511.6,480 L511.6,487.6" stroke="#1a1a1a" stroke-width="1.5" fill="none"/>
<path d="M190.6,482.9 C193.82,482.53 203.03,481.43 209.9,480.7 C216.77,479.97 225.22,479.23 231.8,478.5 C238.38,477.77 245.2,476.92 249.4,476.3 C253.6,475.68 254.9,475.03 257,474.8 C259.1,474.57 260.17,474.77 262,474.9 C263.83,475.03 264.68,475.17 268,475.6 C271.32,476.03 277.75,477.12 281.9,477.5 C286.05,477.88 289.23,477.9 292.9,477.9 C296.57,477.9 299.15,477.57 303.9,477.5 C308.65,477.43 315.92,477.2 321.4,477.5 C326.88,477.8 331.68,478.75 336.8,479.3 C341.92,479.85 346.62,480.37 352.1,480.8 C357.58,481.23 361.72,481.63 369.7,481.9 C377.68,482.17 376.78,482.3 400,482.4 C423.22,482.5 490.83,482.48 509,482.5" stroke="#2222bb" stroke-width="1.7" fill="none" stroke-linejoin="round"/>
<path d="M190.6,482.9 C191.63,482.53 195.03,482.35 196.8,480.7 C198.57,479.05 199.93,477.57 201.2,473 C202.47,468.43 203.5,461.33 204.4,453.3 C205.3,445.27 205.97,434.3 206.6,424.8 C207.23,415.3 207.65,405.43 208.2,396.3 C208.75,387.17 209.6,376.35 209.9,370 C210.2,363.65 209.63,362.27 210,358.2 C210.37,354.13 211.5,348.33 212.1,345.6 C212.7,342.87 213.07,341.8 213.6,341.8 C214.13,341.8 214.82,340.9 215.3,345.6 C215.78,350.3 215.75,362.28 216.5,370 C217.25,377.72 218.7,385.32 219.8,391.9 C220.9,398.48 221.82,404.38 223.1,409.5 C224.38,414.62 226.05,419.68 227.5,422.6 C228.95,425.52 230.35,427 231.8,427 C233.25,427 234.73,425.43 236.2,422.6 C237.67,419.77 239.22,414.02 240.6,410 C241.98,405.98 243.27,402.25 244.5,398.5 C245.73,394.75 246.92,391.25 248,387.5 C249.08,383.75 250.05,379.75 251,376 C251.95,372.25 252.73,368.63 253.7,365 C254.67,361.37 255.78,357.52 256.8,354.2 C257.82,350.88 258.78,348.02 259.8,345.1 C260.82,342.18 261.75,339.25 262.9,336.7 C264.05,334.15 265.43,331.72 266.7,329.8 C267.97,327.88 269.1,326.47 270.5,325.2 C271.9,323.93 273.83,322.32 275.1,322.2 C276.37,322.08 277.08,323.23 278.1,324.5 C279.12,325.77 279.93,328.1 281.2,329.8 C282.47,331.5 284.23,333.8 285.7,334.7 C287.17,335.6 288.45,335.28 290,335.2 C291.55,335.12 293,334.93 295,334.2 C297,333.47 299.45,332.23 302,330.8 C304.55,329.37 307.87,327.7 310.3,325.6 C312.73,323.5 314.5,321.17 316.6,318.2 C318.7,315.23 320.8,311.63 322.9,307.8 C325,303.97 327.1,298.7 329.2,295.2 C331.3,291.7 333.4,288.97 335.5,286.8 C337.6,284.63 340.05,283.18 341.8,282.2 C343.55,281.22 344.25,280.67 346,280.9 C347.75,281.13 350.2,282.1 352.3,283.6 C354.4,285.1 356.85,287.62 358.6,289.9 C360.35,292.18 361.05,293.62 362.8,297.3 C364.55,300.98 367.18,307.28 369.1,312 C371.02,316.72 372.95,321.85 374.3,325.6 C375.65,329.35 376.25,331.53 377.2,334.5 C378.15,337.47 379.03,340.4 380,343.4 C380.97,346.4 381.7,347.33 383,352.5 C384.3,357.67 385.53,366.8 387.8,374.4 C390.07,382 393.65,391.2 396.6,398.1 C399.55,405 402.03,409.63 405.5,415.8 C408.97,421.97 413.45,429.42 417.4,435.1 C421.35,440.78 424.77,445.22 429.2,449.9 C433.63,454.58 439.07,459.5 444,463.2 C448.93,466.9 453.87,469.73 458.8,472.1 C463.73,474.47 468.67,476.03 473.6,477.4 C478.53,478.77 482.48,479.52 488.4,480.3 C494.32,481.08 505.65,481.8 509.1,482.1" stroke="#cc1f2c" stroke-width="1.7" fill="none" stroke-linejoin="round"/>
<path d="M190.6,416 C190.97,417.1 191.95,422.23 192.8,422.6 C193.65,422.97 194.85,421.48 195.7,418.2 C196.55,414.92 197.28,408.73 197.9,402.9 C198.52,397.07 198.78,391.35 199.4,383.2 C200.02,375.05 200.88,364.12 201.6,354 C202.32,343.88 203,331.95 203.7,322.5 C204.4,313.05 204.92,302.38 205.8,297.3 C206.68,292.22 207.95,292 209,292 C210.05,292 211.23,293.97 212.1,297.3 C212.97,300.63 213.5,305 214.2,312 C214.9,319 215.6,330.55 216.3,339.3 C217,348.05 217.63,355 218.4,364.5 C219.17,374 219.75,387.35 220.9,396.3 C222.05,405.25 223.85,412.53 225.3,418.2 C226.75,423.87 228.33,427.73 229.6,430.3 C230.87,432.87 231.62,433.42 232.9,433.6 C234.18,433.78 235.65,433.6 237.3,431.4 C238.95,429.2 240.78,426.13 242.8,420.4 C244.82,414.67 247.83,402.07 249.4,397 C250.97,391.93 251.23,392.82 252.2,390 C253.17,387.18 253.93,383.02 255.2,380.1 C256.47,377.18 258.52,374.02 259.8,372.5 C261.08,370.98 261.63,370.75 262.9,371 C264.17,371.25 265.88,372.48 267.4,374 C268.92,375.52 270.47,377.77 272,380.1 C273.53,382.43 275.32,385.67 276.6,388 C277.88,390.33 278.08,391.25 279.7,394.1 C281.32,396.95 283.73,401.8 286.3,405.1 C288.87,408.4 292.17,410.97 295.1,413.9 C298.03,416.83 301.15,420.22 303.9,422.7 C306.65,425.18 307.95,426.8 311.6,428.8 C315.25,430.8 321.23,432.8 325.8,434.7 C330.37,436.6 334.62,438.37 339,440.2 C343.38,442.03 348.45,444.17 352.1,445.7 C355.75,447.23 359.32,447.57 360.9,449.4 C362.48,451.23 360.13,454.77 361.6,456.7 C363.07,458.63 366.63,459.4 369.7,461 C372.77,462.6 376.62,464.67 380,466.3 C383.38,467.93 386.73,469.5 390,470.8 C393.27,472.1 395.53,473 399.6,474.1 C403.67,475.2 409.47,476.5 414.4,477.4 C419.33,478.3 421.8,478.82 429.2,479.5 C436.6,480.18 445.48,481.02 458.8,481.5 C472.12,481.98 500.72,482.25 509.1,482.4" stroke="#1a6e28" stroke-width="1.7" fill="none" stroke-linejoin="round"/>
<path d="M392.3,279.7 h25" stroke="#cc1f2c" stroke-width="1.6"/>
<path d="M392.3,297 h25" stroke="#2222bb" stroke-width="1.6"/>
<path d="M392.3,311.4 h25" stroke="#1a6e28" stroke-width="1.6"/>
<text x="420.5" y="283.5" class="lg" style="font-size:10.7px;letter-spacing:0.15px">WO<tspan dy="3.8" font-size="5.5">3</tspan></text>
<text x="420.5" y="300.8" class="lg" style="font-size:10.7px;letter-spacing:0.15px">ZnO</text>
<text x="420.5" y="315.2" class="lg" style="font-size:10.7px;letter-spacing:0.15px">n- WO<tspan dy="3.8" font-size="5.5">3</tspan><tspan dy="-3.8">/ZnO</tspan></text>
<text x="204.2" y="282" class="pl">c</text>
<text x="303.7" y="517.6" class="at" textLength="95.5" lengthAdjust="spacingAndGlyphs">Wavelength (nm)</text>
<text transform="translate(179.2,448.5) rotate(-90)" class="at" textLength="146" lengthAdjust="spacingAndGlyphs">Emission Intensity (a.u.)</text>
</svg>
</body></html>
